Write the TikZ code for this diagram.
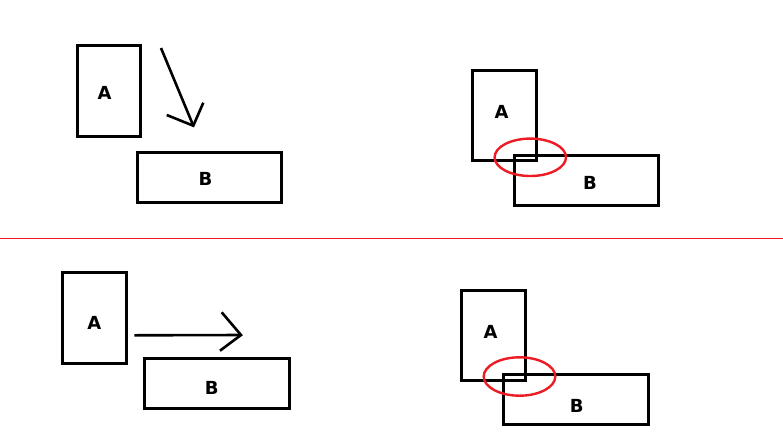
\documentclass[tikz,border=0pt]{standalone}
\usepackage{fontspec}
\setmainfont{DejaVu Sans}
\definecolor{paintred}{RGB}{237,28,36}
\begin{document}
\begin{tikzpicture}[x=1pt,y=-1pt,
  box/.style={draw=black,line width=3pt,inner sep=0pt},
  lbl/.style={inner sep=0pt,text depth=0pt,font=\fontsize{18}{20}\selectfont\bfseries},
  arr/.style={draw=black,line width=2.6pt},
  ring/.style={draw=paintred,line width=2.4pt},
  divider/.style={draw=paintred,line width=1pt}]
\useasboundingbox (0,0) rectangle (783,445);
\fill[white] (0,0) rectangle (783,445);
% divider
\coordinate (dl) at (0,238.5);
\coordinate (dr) at (783,238.5);
\draw[divider] (dl) -- (dr);
% top-left
\node[box,minimum width=63pt,minimum height=91pt] (tlA) at (108.5,90.5) {};
\node[box,minimum width=144pt,minimum height=50pt] (tlB) at (209.3,177.7) {};
\node[lbl] (tlAl) at (104.5,93) {A};
\node[lbl] (tlBl) at (205.5,179) {B};
\coordinate (ts) at (161,48);
\coordinate (tt) at (193.3,125.7);
\coordinate (tw1) at (166.7,115);
\coordinate (tw2) at (203.3,102.7);
\draw[arr] (ts) -- (tt);
\draw[arr,line join=miter] (tw1) -- (tt) -- (tw2);
% top-right
\node[box,minimum width=64pt,minimum height=90pt] (trA) at (504.5,115.7) {};
\node[box,minimum width=144pt,minimum height=50pt] (trB) at (586.3,180.7) {};
\node[lbl] (trAl) at (501.7,111.7) {A};
\node[lbl] (trBl) at (590,183.3) {B};
\draw[ring] (530.3,157.3) ellipse [x radius=35.7pt,y radius=18.7pt];
% bottom-left
\node[box,minimum width=64pt,minimum height=91pt] (blA) at (94.5,318) {};
\node[box,minimum width=145pt,minimum height=50pt] (blB) at (216.7,383.4) {};
\node[lbl] (blAl) at (94.3,323.3) {A};
\node[lbl] (blBl) at (211.7,388.3) {B};
\coordinate (bs) at (134.3,335.3);
\coordinate (bt) at (241,335);
\coordinate (bw1) at (221.7,312.3);
\coordinate (bw2) at (220,350.7);
\draw[arr] (bs) -- (bt);
\draw[arr,line join=miter] (bw1) -- (bt) -- (bw2);
% bottom-right
\node[box,minimum width=64pt,minimum height=90pt] (brA) at (493.7,335) {};
\node[box,minimum width=145pt,minimum height=50pt] (brB) at (575.7,399.9) {};
\node[lbl] (brAl) at (490.7,331.7) {A};
\node[lbl] (brBl) at (576.7,406) {B};
\draw[ring] (519.5,376.5) ellipse [x radius=35.8pt,y radius=19.2pt];
\end{tikzpicture}
\end{document}
